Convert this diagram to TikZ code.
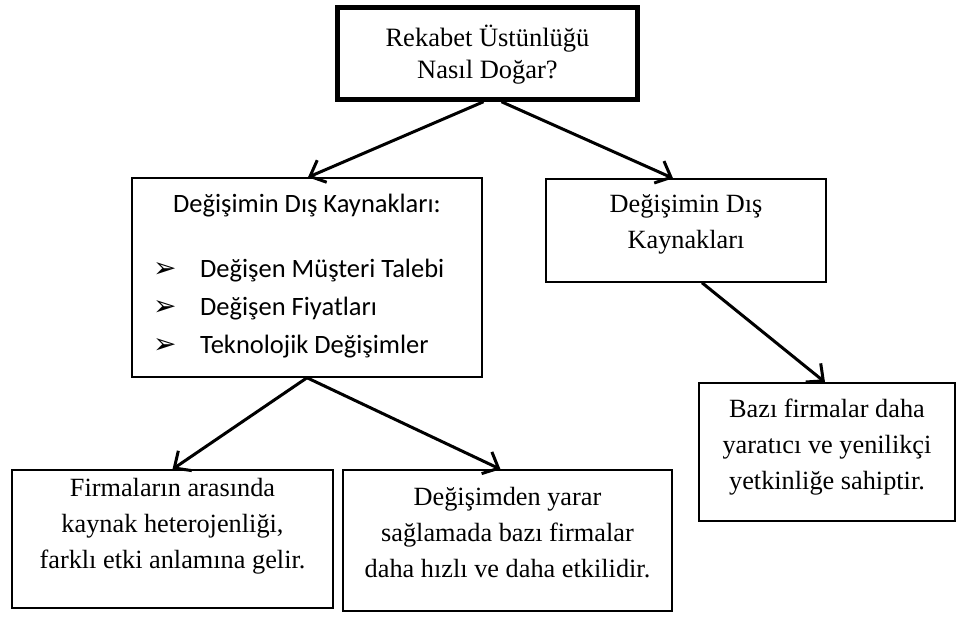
\documentclass[tikz,border=0pt]{standalone}
\usepackage{fontspec}
\setmainfont{Liberation Serif}
\newfontfamily\calibri{Carlito}
\newfontfamily\dejavu{DejaVu Sans}
\usetikzlibrary{arrows.meta}
\newcommand{\blt}{\makebox[47pt][l]{\dejavu\fontsize{28}{28}\selectfont\raisebox{0pt}{➢}}}
\begin{document}
\begin{tikzpicture}[x=1pt,y=-1pt,
  box/.style={draw, line width=1.5pt, inner sep=0pt},
  thickbox/.style={draw, line width=4.5pt, inner sep=0pt},
  txt/.style={inner sep=0pt, align=center, font=\fontsize{26.3}{36}\selectfont},
  arr/.style={line width=3pt, -{Straight Barb[length=13pt,width=24pt]}}]
\useasboundingbox (0,0) rectangle (958,617);
% boxes
\node[thickbox, minimum width=300pt, minimum height=92pt] (top) at (487.5,53.5) {};
\node[box, minimum width=350pt, minimum height=199pt] (lm) at (307,277.5) {};
\node[box, minimum width=280pt, minimum height=103pt] (rm) at (686,230.5) {};
\node[box, minimum width=321pt, minimum height=138pt] (bl) at (172.5,539) {};
\node[box, minimum width=329pt, minimum height=141pt] (bm) at (507.5,540.5) {};
\node[box, minimum width=256pt, minimum height=138pt] (br) at (827,452) {};
% texts
\node[txt, font=\fontsize{26.5}{31.5}\selectfont] (top-t) at (487.5,54.5) {Rekabet Üstünlüğü\\Nasıl Doğar?};
\node[inner sep=0pt, anchor=base, font=\calibri\fontsize{26.5}{37}\selectfont] (lm-t) at (307,213) {Değişimin Dış Kaynakları:};
\node[inner sep=0pt, anchor=base west, align=left, font=\calibri\fontsize{26.5}{37.5}\selectfont] (lm-l) at (153,353)
  {\blt Değişen Müşteri Talebi\\
   \blt Değişen Fiyatları\\
   \blt Teknolojik Değişimler};
\node[txt] (rm-t) at (686,224) {Değişimin Dış\\Kaynakları};
\node[txt] (bl-t) at (172.5,526) {Firmaların arasında\\kaynak heterojenliği,\\farklı etki anlamına gelir.};
\node[txt] (bm-t) at (507.5,533) {Değişimden yarar\\sağlamada bazı firmalar\\daha hızlı ve daha etkilidir.};
\node[txt] (br-t) at (827,447) {Bazı firmalar daha\\yaratıcı ve yenilikçi\\yetkinliğe sahiptir.};
% connectors
\draw[arr] ([xshift=-4pt]top.south) -- ([xshift=1pt]lm.north);
\draw[arr] ([xshift=14pt]top.south) -- ([xshift=-13pt]rm.north);
\draw[arr] (lm.south) -- (bl.north);
\draw[arr] (lm.south) -- ([xshift=-7pt]bm.north);
\draw[arr] ([xshift=16pt]rm.south) -- ([xshift=-2pt]br.north);
\end{tikzpicture}
\end{document}
